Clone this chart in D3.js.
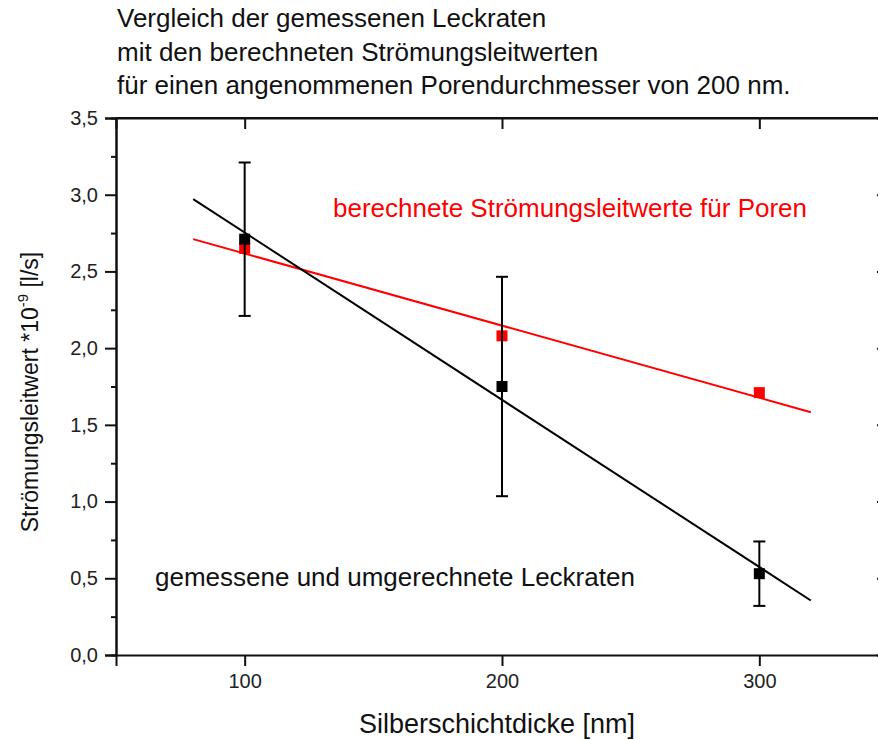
<!DOCTYPE html>
<html>
<head>
<meta charset="utf-8">
<script src="https://cdn.jsdelivr.net/npm/d3@7"></script>
<style>
  html, body { margin: 0; padding: 0; background: #fff; }
  svg { display: block; font-family: "Liberation Sans", Arial, sans-serif; }
</style>
</head>
<body>
<svg id="chart" width="878" height="740"></svg>
<script>
// Silver layer thickness [nm]
const thickness = [100, 200, 300];
// measured, converted leak rates (*1e-9 l/s) with their error half-widths
const measured = [2.71, 1.75, 0.53];
const measuredErr = [0.50, 0.715, 0.21];
// calculated flow conductance for pores of 200 nm
const calculated = [2.65, 2.08, 1.71];

const xTicks = [100, 200, 300];
const yTicks = [0, 0.5, 1.0, 1.5, 2.0, 2.5, 3.0, 3.5];
const yMinor = [0.25, 0.75, 1.25, 1.75, 2.25, 2.75, 3.25];
const fitRange = [80, 320];

const titleLines = [
  "Vergleich der gemessenen Leckraten",
  "mit den berechneten Strömungsleitwerten",
  "für einen angenommenen Porendurchmesser von 200 nm."
];

const svg = d3.select("#chart");
const L = 116, R = 888, T = 118, B = 655;
const x = d3.scaleLinear().domain([50, 350]).range([L, R]);
const y = d3.scaleLinear().domain([0, 3.5]).range([B, T]);
const fmt = v => d3.format(".1f")(v).replace(".", ",");

// least-squares straight line through a series
function fit(xs, ys) {
  const n = xs.length, mx = d3.mean(xs), my = d3.mean(ys);
  let sxy = 0, sxx = 0;
  for (let i = 0; i < n; i++) { sxy += (xs[i] - mx) * (ys[i] - my); sxx += (xs[i] - mx) ** 2; }
  const k = sxy / sxx;
  return fitRange.map(v => [v, my + k * (v - mx)]);
}
const line = d3.line().x(d => x(d[0])).y(d => y(d[1]));

// title
svg.append("g").selectAll("text").data(titleLines).join("text")
  .attr("x", 117).attr("y", (d, i) => 27 + i * 33.5)
  .attr("font-size", 26).attr("fill", "#111").text(d => d);

// axes
const axisColor = "#111";
svg.append("g").attr("transform", `translate(${L},0)`)
  .call(d3.axisLeft(y).tickValues(yTicks).tickSize(11).tickPadding(7).tickFormat(fmt));
svg.append("g").attr("transform", `translate(${L},0)`)
  .call(d3.axisLeft(y).tickValues(yMinor).tickSize(5).tickFormat(""));
svg.append("g").attr("transform", `translate(0,${B})`)
  .call(d3.axisBottom(x).tickValues(xTicks).tickSize(11).tickPadding(8).tickFormat(d3.format("d")));
svg.append("g").attr("transform", `translate(0,${T})`)
  .call(d3.axisBottom(x).tickValues(xTicks).tickSize(11).tickFormat(""));
svg.append("g").attr("transform", `translate(${R},0)`)
  .call(d3.axisLeft(y).tickValues(yTicks).tickSize(11).tickFormat(""));
svg.append("g").attr("transform", `translate(0,${T})`)
  .append("line").attr("x1", L).attr("x2", R).attr("stroke", axisColor).attr("stroke-width", 2);
svg.selectAll(".domain").attr("stroke", axisColor).attr("stroke-width", 2);
svg.selectAll(".tick line").attr("stroke", axisColor).attr("stroke-width", 2);
svg.selectAll(".tick text").attr("font-size", 20).attr("fill", "#222")
  .attr("font-family", "Liberation Sans, Arial, sans-serif");

// axis titles
svg.append("text").attr("x", 497).attr("y", 733)
  .attr("text-anchor", "middle").attr("font-size", 27).attr("fill", "#111")
  .text("Silberschichtdicke [nm]");
const yt = svg.append("text").attr("transform", `translate(38,392) rotate(-90)`)
  .attr("text-anchor", "middle").attr("font-size", 23).attr("fill", "#111");
yt.append("tspan").text("Strömungsleitwert *10");
yt.append("tspan").attr("font-size", 15).attr("dy", -10).text("-9");
yt.append("tspan").attr("dy", 10).text(" [l/s]");

// calculated series
const red = "#ff0000";
svg.append("path").datum(fit(thickness, calculated)).attr("d", line)
  .attr("fill", "none").attr("stroke", red).attr("stroke-width", 2);
svg.append("g").selectAll("rect").data(thickness).join("rect")
  .attr("x", d => x(d) - 5.5).attr("y", (d, i) => y(calculated[i]) - 5.5)
  .attr("width", 11).attr("height", 11).attr("fill", red);

// measured series
svg.append("path").datum(fit(thickness, measured)).attr("d", line)
  .attr("fill", "none").attr("stroke", "#000").attr("stroke-width", 2);
const eb = svg.append("g").attr("stroke", "#000").attr("stroke-width", 2);
thickness.forEach((t, i) => {
  const lo = y(measured[i] - measuredErr[i]), hi = y(measured[i] + measuredErr[i]);
  eb.append("line").attr("x1", x(t)).attr("x2", x(t)).attr("y1", lo).attr("y2", hi);
  eb.append("line").attr("x1", x(t) - 6).attr("x2", x(t) + 6).attr("y1", lo).attr("y2", lo);
  eb.append("line").attr("x1", x(t) - 6).attr("x2", x(t) + 6).attr("y1", hi).attr("y2", hi);
});
svg.append("g").selectAll("rect").data(thickness).join("rect")
  .attr("x", d => x(d) - 5.5).attr("y", (d, i) => y(measured[i]) - 5.5)
  .attr("width", 11).attr("height", 11).attr("fill", "#000");

// series labels
svg.append("text").attr("x", 333).attr("y", 217).attr("font-size", 26).attr("fill", red)
  .text("berechnete Strömungsleitwerte für Poren");
svg.append("text").attr("x", 155).attr("y", 586).attr("font-size", 26).attr("fill", "#111")
  .text("gemessene und umgerechnete Leckraten");
</script>
</body>
</html>
